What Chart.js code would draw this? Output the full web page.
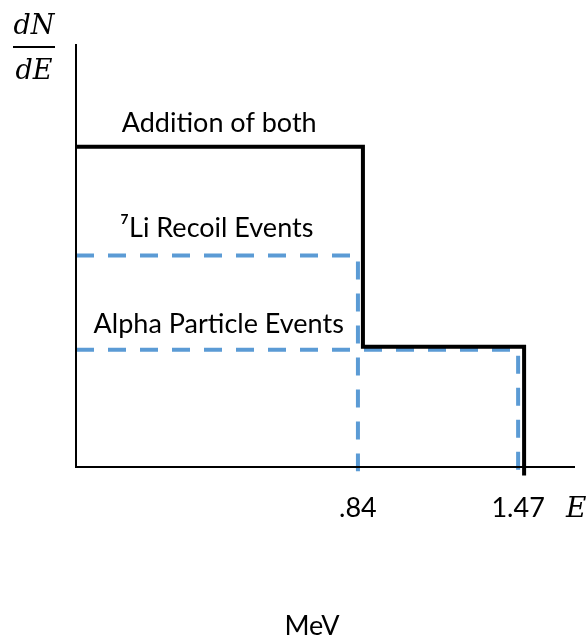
<!DOCTYPE html>
<html>
<head>
<meta charset="utf-8">
<script src="https://cdn.jsdelivr.net/npm/chart.js@4"></script>
<style>
html,body{margin:0;padding:0;background:#fff;}
#wrap{width:586px;height:639px;position:relative;}
</style>
</head>
<body>
<div id="wrap"><canvas id="c"></canvas></div>
<script>
// Schematic energy axis (sketch units 0..100) and dN/dE (sketch units 0..100)
const tickLabels = [".84", "1.47"];
const recoilEnd = 56.5;      // 7Li recoil spectrum end (.84 MeV)
const alphaEnd = 88.6;       // alpha spectrum end (1.47 MeV)
const recoilLevel = 50;
const alphaLevel = 27.7;
const sumX = [0, 57.5, 57.5, 89.8, 89.8];
const sumY = [75.7, 75.7, 28.4, 28.4, -2];
const recoilX = [0, recoilEnd, recoilEnd];
const recoilY = [recoilLevel, recoilLevel, -1];
const alphaX = [0, alphaEnd, alphaEnd];
const alphaY = [alphaLevel, alphaLevel, -1];
const seriesLabels = ["Addition of both", "\u2077Li Recoil Events", "Alpha Particle Events"];
const labelX = [28.7, 28.2, 28.6];
const labelY = [79.2, 54.4, 31.7];

const pts = (xs, ys) => xs.map((x, i) => ({x: x, y: ys[i]}));
const BLUE = '#5B9BD5';

const textPlugin = {
  id: 'texts',
  afterDatasetsDraw(chart) {
    const ctx = chart.ctx, xs = chart.scales.x, ys = chart.scales.y;
    ctx.save();
    ctx.fillStyle = '#000';
    ctx.textAlign = 'center';
    ctx.textBaseline = 'alphabetic';
    ctx.font = '27px Lato';
    seriesLabels.forEach((t, i) => {
      ctx.fillText(t, xs.getPixelForValue(labelX[i]), ys.getPixelForValue(labelY[i]));
    });
    // tick labels at the spectrum end points
    const base = ys.getPixelForValue(0) + 50;
    [recoilEnd, alphaEnd].forEach((v, i) => {
      ctx.fillText(tickLabels[i], xs.getPixelForValue(v), base);
    });
    // axis symbol E
    ctx.textAlign = 'left';
    ctx.font = 'italic 28px "DejaVu Serif"';
    ctx.fillText('E', xs.right - 9, base);
    // dN/dE
    ctx.textAlign = 'center';
    ctx.font = 'italic 27px "DejaVu Serif"';
    ctx.fillText('dN', 34, 34);
    ctx.fillText('dE', 34, 79);
    ctx.fillRect(13, 46, 42, 2);
    // unit
    ctx.font = '27px Lato';
    ctx.fillText('MeV', 312, 635);
    ctx.restore();
  }
};

new Chart(document.getElementById('c'), {
  type: 'scatter',
  data: {
    datasets: [
      {label: 'Addition of both', data: pts(sumX, sumY), showLine: true, borderColor: '#000', borderWidth: 4, pointRadius: 0, clip: false, order: 0, borderCapStyle: 'butt', borderJoinStyle: 'miter'},
      {label: 'Axes', data: pts([0, 0, 100], [100, 0, 0]), showLine: true, borderColor: '#000', borderWidth: 2, pointRadius: 0, clip: false, order: 1},
      {label: '7Li Recoil Events', data: pts(recoilX, recoilY), showLine: true, borderColor: BLUE, borderWidth: 4, borderDash: [18, 14], pointRadius: 0, clip: false, order: 2},
      {label: 'Alpha Particle Events', data: pts(alphaX, alphaY), showLine: true, borderColor: BLUE, borderWidth: 4, borderDash: [18, 14], pointRadius: 0, clip: false, order: 3}
    ]
  },
  options: {
    responsive: true,
    maintainAspectRatio: false,
    animation: false,
    layout: {padding: {left: 76, top: 44, right: 11, bottom: 172}},
    plugins: {legend: {display: false}, tooltip: {enabled: false}},
    scales: {
      x: {type: 'linear', min: 0, max: 100, display: false},
      y: {type: 'linear', min: 0, max: 100, display: false}
    }
  },
  plugins: [textPlugin]
});
</script>
</body>
</html>
